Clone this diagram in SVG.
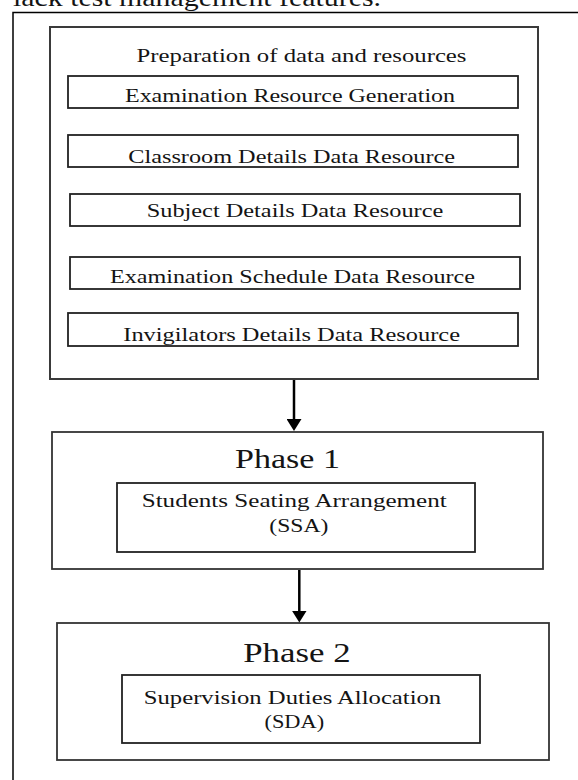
<svg xmlns="http://www.w3.org/2000/svg" width="578" height="780" viewBox="0 0 578 780">
  <style>
    .frame { fill: none; stroke: #000; stroke-width: 1.5; }
    .panel { fill: #fff; stroke: #3a3a3a; stroke-width: 2; }
    .item { fill: #fff; stroke: #222; stroke-width: 1.8; }
    .phase { fill: #fff; stroke: #333; stroke-width: 1.8; }
    .t { font-family: "Liberation Serif", "Times New Roman", serif; fill: #141414; }
    .body { font-size: 26px; }
    .label { font-size: 19.5px; }
    .head { font-size: 28px; }
    .sub { font-size: 18.5px; }
    .conn { fill: none; stroke: #000; stroke-width: 2.5; }
  </style>
  <defs>
    <marker id="arrow" viewBox="0 0 12 15" refX="2" refY="7.5" markerWidth="12" markerHeight="15" markerUnits="userSpaceOnUse" orient="auto">
      <path d="M0,0 L12,7.5 L0,15 Z" fill="#000"/>
    </marker>
  </defs>

  <rect width="578" height="780" fill="#fff"/>

  <!-- running text of the page above the figure -->
  <text class="t body" x="13" y="6" textLength="368" lengthAdjust="spacingAndGlyphs">lack test management features.</text>

  <!-- figure frame -->
  <path class="frame" d="M13,780 V12.5 H578"/>

  <g id="preparation">
    <rect class="panel" x="50" y="27" width="488" height="352"/>
    <text class="t label" x="136.5" y="61.5" textLength="330" lengthAdjust="spacingAndGlyphs">Preparation of data and resources</text>
  </g>

  <g id="exam-resource">
    <rect class="item" x="68" y="76" width="450" height="32"/>
    <text class="t label" x="125" y="102.3" textLength="330" lengthAdjust="spacingAndGlyphs">Examination Resource Generation</text>
  </g>

  <g id="classroom">
    <rect class="item" x="68" y="135" width="450" height="32"/>
    <text class="t label" x="128.3" y="162.5" textLength="326.7" lengthAdjust="spacingAndGlyphs">Classroom Details Data Resource</text>
  </g>

  <g id="subject">
    <rect class="item" x="70" y="194" width="450" height="32"/>
    <text class="t label" x="146.7" y="216.7" textLength="296.6" lengthAdjust="spacingAndGlyphs">Subject Details Data Resource</text>
  </g>

  <g id="schedule">
    <rect class="item" x="70" y="257" width="450" height="32"/>
    <text class="t label" x="110" y="282.7" textLength="365" lengthAdjust="spacingAndGlyphs">Examination Schedule Data Resource</text>
  </g>

  <g id="invigilators">
    <rect class="item" x="68" y="313" width="450" height="33"/>
    <text class="t label" x="123.3" y="341" textLength="336.7" lengthAdjust="spacingAndGlyphs">Invigilators Details Data Resource</text>
  </g>

  <g id="phase1">
    <rect class="phase" x="52" y="432" width="491" height="137"/>
    <text class="t head" x="235" y="468.3" textLength="105" lengthAdjust="spacingAndGlyphs">Phase 1</text>
  </g>

  <g id="ssa">
    <rect class="item" x="117" y="483" width="358" height="69"/>
    <text class="t sub" x="141.7" y="507.3" textLength="305" lengthAdjust="spacingAndGlyphs">Students Seating Arrangement</text>
    <text class="t sub" x="269.3" y="531.7" textLength="59" lengthAdjust="spacingAndGlyphs">(SSA)</text>
  </g>

  <g id="phase2">
    <rect class="phase" x="57" y="623" width="492" height="137"/>
    <text class="t head" x="243.2" y="661.7" textLength="107.4" lengthAdjust="spacingAndGlyphs">Phase 2</text>
  </g>

  <g id="sda">
    <rect class="item" x="122" y="675" width="358" height="68"/>
    <text class="t sub" x="143.8" y="704" textLength="297.4" lengthAdjust="spacingAndGlyphs">Supervision Duties Allocation</text>
    <text class="t sub" x="264.5" y="728.3" textLength="59.6" lengthAdjust="spacingAndGlyphs">(SDA)</text>
  </g>

  <g id="connectors">
    <path class="conn" d="M294,380 V421" marker-end="url(#arrow)"/>
    <path class="conn" d="M299.3,570 V612.5" marker-end="url(#arrow)"/>
  </g>
</svg>
